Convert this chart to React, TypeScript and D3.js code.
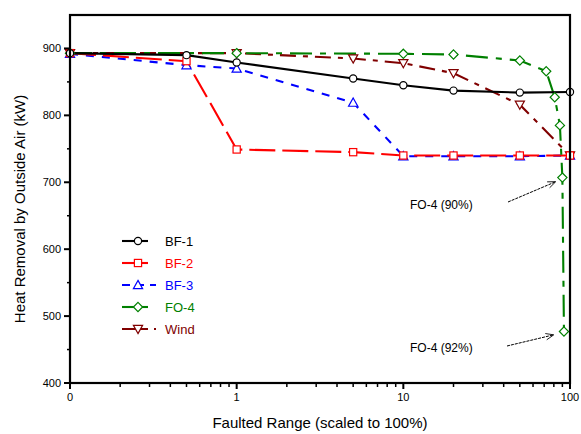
import React from "react";
import * as d3 from "d3";

const seriesNames = ["BF-1", "BF-2", "BF-3", "FO-4", "Wind"];
const colors = ["#000000", "#ff0000", "#0000ff", "#008000", "#800000"];
const markers = ["circle", "square", "triangle", "diamond", "triangleDown"];
const dashes = ["", "26,7", "8,8", "22,8,6,8", "16,7,5,7"];

// x value 0.1 is shown as "0"
const bf1X = [0.1, 0.5, 1, 5, 10, 20, 50, 100];
const bf1Y = [893, 890, 879, 855, 845, 837, 834, 835];
const bf2X = [0.1, 0.5, 1, 5, 10, 20, 50, 100];
const bf2Y = [893, 881, 749, 745, 740, 740, 740, 740];
const bf3X = [0.1, 0.5, 1, 5, 10, 20, 50, 100];
const bf3Y = [892, 875, 870, 819, 739, 739, 739, 740];
const fo4X = [0.1, 1, 10, 20, 50, 72, 81, 87, 90, 92];
const fo4Y = [893, 893, 892, 891, 882, 866, 827, 785, 707, 477];
const windX = [0.1, 1, 5, 10, 20, 50, 100];
const windY = [893, 893, 885, 878, 863, 816, 740];

const xTicks = [0.1, 1, 10, 100];
const xTickLabels = ["0", "1", "10", "100"];
const yTicks = [400, 500, 600, 700, 800, 900];

const W = 581, H = 434;
const L = 70, R = 570, T = 15, B = 383;

function Marker({ type, x, y, color }: { type: string; x: number; y: number; color: string }) {
  const s = 3.6;
  const common = { fill: "white", stroke: color, strokeWidth: 1.2 };
  if (type === "circle") return <circle cx={x} cy={y} r={s} {...common} />;
  if (type === "square") return <rect x={x - s} y={y - s} width={2 * s} height={2 * s} {...common} />;
  if (type === "triangle")
    return <path d={`M${x},${y - s - 1}L${x + s + 1},${y + s}L${x - s - 1},${y + s}Z`} {...common} />;
  if (type === "triangleDown")
    return <path d={`M${x},${y + s + 1}L${x + s + 1},${y - s}L${x - s - 1},${y - s}Z`} {...common} />;
  return <path d={`M${x},${y - s - 1}L${x + s + 1},${y}L${x},${y + s + 1}L${x - s - 1},${y}Z`} {...common} />;
}

export default function App() {
  const x = d3.scaleLog().domain([0.1, 100]).range([L, R]);
  const y = d3.scaleLinear().domain([400, 950]).range([B, T]);
  const data = [
    [bf1X, bf1Y],
    [bf2X, bf2Y],
    [bf3X, bf3Y],
    [fo4X, fo4Y],
    [windX, windY],
  ];
  const line = d3
    .line<[number, number]>()
    .x((d) => x(d[0]))
    .y((d) => y(d[1]));

  const minorX: number[] = [];
  [0.1, 1, 10].forEach((dec) => {
    for (let k = 2; k <= 9; k++) minorX.push(dec * k);
  });
  const minorY = [450, 550, 650, 750, 850];

  const font = "Liberation Sans, Arial, sans-serif";
  const order = [4, 2, 1, 3, 0];

  return (
    <svg width={W} height={H} style={{ position: "absolute", left: 0, top: 0 }}>
      <rect width={W} height={H} fill="white" />
      {order.map((i) => {
        const pts = data[i][0].map((v, j) => [v, data[i][1][j]] as [number, number]);
        return (
          <g key={i}>
            <path d={line(pts) || ""} fill="none" stroke={colors[i]} strokeWidth={2.1} strokeDasharray={dashes[i]} />
          </g>
        );
      })}
      {order.map((i) => (
        <g key={"m" + i}>
          {data[i][0].map((v, j) => (
            <Marker key={j} type={markers[i]} x={x(v)} y={y(data[i][1][j])} color={colors[i]} />
          ))}
        </g>
      ))}
      <rect x={L} y={T} width={R - L} height={B - T} fill="none" stroke="black" strokeWidth={2.2} />
      {yTicks.map((t) => (
        <g key={t}>
          <line x1={L - 6} x2={L} y1={y(t)} y2={y(t)} stroke="black" strokeWidth={2} />
          <text x={L - 9} y={y(t) + 4} textAnchor="end" fontFamily={font} fontSize={11}>
            {t}
          </text>
        </g>
      ))}
      {minorY.map((t) => (
        <line key={t} x1={L - 3} x2={L} y1={y(t)} y2={y(t)} stroke="black" strokeWidth={1.5} />
      ))}
      {xTicks.map((t, i) => (
        <g key={t}>
          <line x1={x(t)} x2={x(t)} y1={B} y2={B + 6} stroke="black" strokeWidth={2} />
          <text x={x(t)} y={B + 18} textAnchor="middle" fontFamily={font} fontSize={11}>
            {xTickLabels[i]}
          </text>
        </g>
      ))}
      {minorX.map((t) => (
        <line key={t} x1={x(t)} x2={x(t)} y1={B} y2={B + 4} stroke="black" strokeWidth={1.5} />
      ))}
      <text x={(L + R) / 2} y={428} textAnchor="middle" fontFamily={font} fontSize={15}>
        Faulted Range (scaled to 100%)
      </text>
      <text
        transform={`translate(25,${(T + B) / 2 + 10}) rotate(-90)`}
        textAnchor="middle"
        fontFamily={font}
        fontSize={15}
      >
        Heat Removal by Outside Air (kW)
      </text>
      {seriesNames.map((n, i) => {
        const ly = 241 + i * 22;
        return (
          <g key={n}>
            <line x1={122} x2={i === 2 || i === 4 ? 156 : 148} y1={ly} y2={ly} stroke={colors[i]} strokeWidth={2.1}
              strokeDasharray={i === 2 ? "8,6" : i === 4 ? "26,6,5,6" : ""} />
            <Marker type={markers[i]} x={138} y={ly} color={colors[i]} />
            <text x={165} y={ly + 5} fontFamily={font} fontSize={13} fill={colors[i]}>
              {n}
            </text>
          </g>
        );
      })}
      <defs>
        <marker id="arr" viewBox="0 0 10 10" refX="9" refY="5" markerWidth="10" markerHeight="8" orient="auto">
          <path d="M0,1L10,5L0,9" fill="none" stroke="black" strokeWidth={1} />
        </marker>
      </defs>
      <text x={410} y={209} fontFamily={font} fontSize={12}>
        FO-4 (90%)
      </text>
      <line x1={508} y1={202} x2={555} y2={182} stroke="black" strokeWidth={1} strokeDasharray="3,1" markerEnd="url(#arr)" />
      <text x={410} y={352} fontFamily={font} fontSize={12}>
        FO-4 (92%)
      </text>
      <line x1={507} y1={346} x2={553} y2={335} stroke="black" strokeWidth={1} strokeDasharray="3,1" markerEnd="url(#arr)" />
    </svg>
  );
}
